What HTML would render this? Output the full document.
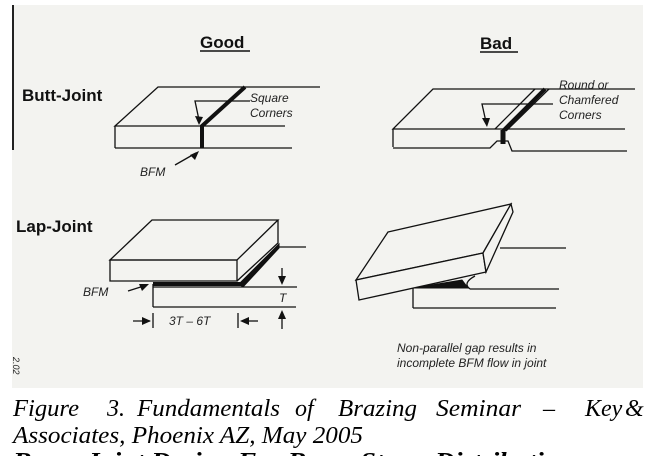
<!DOCTYPE html>
<html><head><meta charset="utf-8"><style>
html,body{margin:0;padding:0;background:#fff;}
svg{display:block}
</style></head><body>
<svg width="662" height="456" viewBox="0 0 662 456" xmlns="http://www.w3.org/2000/svg">
<rect x="12" y="5" width="631" height="383" fill="#f3f3f0"/>
<line x1="13" y1="5" x2="13" y2="150" stroke="#222" stroke-width="2"/>
<g font-family="Liberation Sans, sans-serif" fill="#111">
<text x="200" y="48" font-size="17" font-weight="bold">Good</text>
<line x1="200" y1="51" x2="250" y2="51" stroke="#111" stroke-width="1.5"/>
<text x="480" y="49" font-size="17" font-weight="bold">Bad</text>
<line x1="480" y1="52" x2="518" y2="52" stroke="#111" stroke-width="1.5"/>
<text x="22" y="101" font-size="17" font-weight="bold">Butt-Joint</text>
<text x="16" y="232" font-size="17" font-weight="bold">Lap-Joint</text>
</g>
<g stroke="#111" stroke-width="1.3" fill="none">
<polyline points="320,87 158,87 115,126 285,126"/>
<line x1="115" y1="126" x2="115" y2="148"/>
<line x1="115" y1="148" x2="292" y2="148"/>
<polyline points="245,87 202,126 202,148" stroke-width="4"/>
<polyline points="250,101 195,101 199,120"/>
<line x1="175" y1="165" x2="196" y2="153"/>
<polyline points="635,89 433,89 393,129 625,129"/>
<line x1="393" y1="129" x2="393" y2="147"/>
<polyline points="393,148 490,148 497,141 508,141 512,151 627,151"/>
<line x1="535" y1="89" x2="495" y2="129"/>
<line x1="549" y1="89" x2="506" y2="131"/>
<line x1="545" y1="89" x2="503" y2="131" stroke-width="4"/>
<line x1="503" y1="130" x2="503" y2="144" stroke-width="5"/>
<polyline points="553,104 482,104 486,122"/>
<polygon points="152,220 278,220 237,260 110,260" fill="#f3f3f0"/>
<polygon points="110,260 237,260 237,281 110,281"/>
<polyline points="237,281 278,243 278,220"/>
<polygon points="239,284 279,244 279,248 243,287" fill="#111" stroke-width="1"/>
<line x1="279" y1="247" x2="306" y2="247"/>
<rect x="153" y="282" width="88" height="4" fill="#111" stroke="none"/>
<line x1="153" y1="287" x2="297" y2="287"/>
<line x1="153" y1="307" x2="296" y2="307"/>
<line x1="153" y1="284" x2="153" y2="307"/>
<line x1="128" y1="291" x2="147" y2="285"/>
<line x1="282" y1="268" x2="282" y2="283"/>
<line x1="282" y1="312" x2="282" y2="329"/>
<line x1="133" y1="321" x2="150" y2="321"/>
<line x1="153" y1="313" x2="153" y2="328"/>
<line x1="238" y1="313" x2="238" y2="328"/>
<line x1="258" y1="321" x2="242" y2="321"/>
<line x1="500" y1="248" x2="566" y2="248"/>
<line x1="470" y1="289" x2="559" y2="289"/>
<line x1="413" y1="308" x2="556" y2="308"/>
<line x1="413" y1="288" x2="413" y2="308"/>
<polygon points="413,288 468,288 462,280" fill="#111" stroke-width="1"/>
<polygon points="388,232 511,204 483,253 356,280" fill="#f3f3f0"/>
<polygon points="356,280 483,253 486,272 359,300" fill="#f3f3f0"/>
<polygon points="483,253 511,204 513,212 486,272" fill="#f3f3f0"/>
<path d="M470,289 Q462,283 475,276" />
</g>
<g fill="#111" stroke="none">
<polygon points="199,125 195,116 203,117"/>
<polygon points="199,151 190,155 195,160"/>
<polygon points="487,127 482,118 490,118"/>
<polygon points="149,284 139,284 142,291"/>
<polygon points="282,285 278,276 286,276"/>
<polygon points="282,310 278,319 286,319"/>
<polygon points="151,321 142,317 142,325"/>
<polygon points="240,321 249,317 249,325"/>
</g>
<g font-family="Liberation Sans, sans-serif" font-style="italic" font-size="12" fill="#222">
<text x="250" y="102">Square</text>
<text x="250" y="117">Corners</text>
<text x="140" y="176">BFM</text>
<text x="559" y="89">Round or</text>
<text x="559" y="104">Chamfered</text>
<text x="559" y="119">Corners</text>
<text x="83" y="296">BFM</text>
<text x="279" y="302">T</text>
<text x="169" y="325">3T – 6T</text>
<text x="397" y="352">Non-parallel gap results in</text>
<text x="397" y="367">incomplete BFM flow in joint</text>
<text transform="translate(13,357) rotate(90)" font-size="9">2.02</text>
</g>
<g font-family="Liberation Serif, serif" font-style="italic" font-size="24" fill="#000">
<text x="13" y="416" textLength="66" lengthAdjust="spacingAndGlyphs">Figure</text>
<text x="107" y="416">3.</text>
<text x="137" y="416" textLength="143" lengthAdjust="spacingAndGlyphs">Fundamentals</text>
<text x="295" y="416">of</text>
<text x="338" y="416" textLength="79" lengthAdjust="spacingAndGlyphs">Brazing</text>
<text x="436" y="416" textLength="85" lengthAdjust="spacingAndGlyphs">Seminar</text>
<text x="543" y="416">–</text>
<text x="585" y="416">Key</text>
<text x="625" y="416">&amp;</text>
<text x="13" y="443" textLength="350" lengthAdjust="spacingAndGlyphs">Associates, Phoenix AZ, May 2005</text>
<text x="13" y="469" font-weight="bold" textLength="560" lengthAdjust="spacingAndGlyphs">Braze Joint Design For Braze Stress Distribution</text>
</g>
</svg>
</body></html>
